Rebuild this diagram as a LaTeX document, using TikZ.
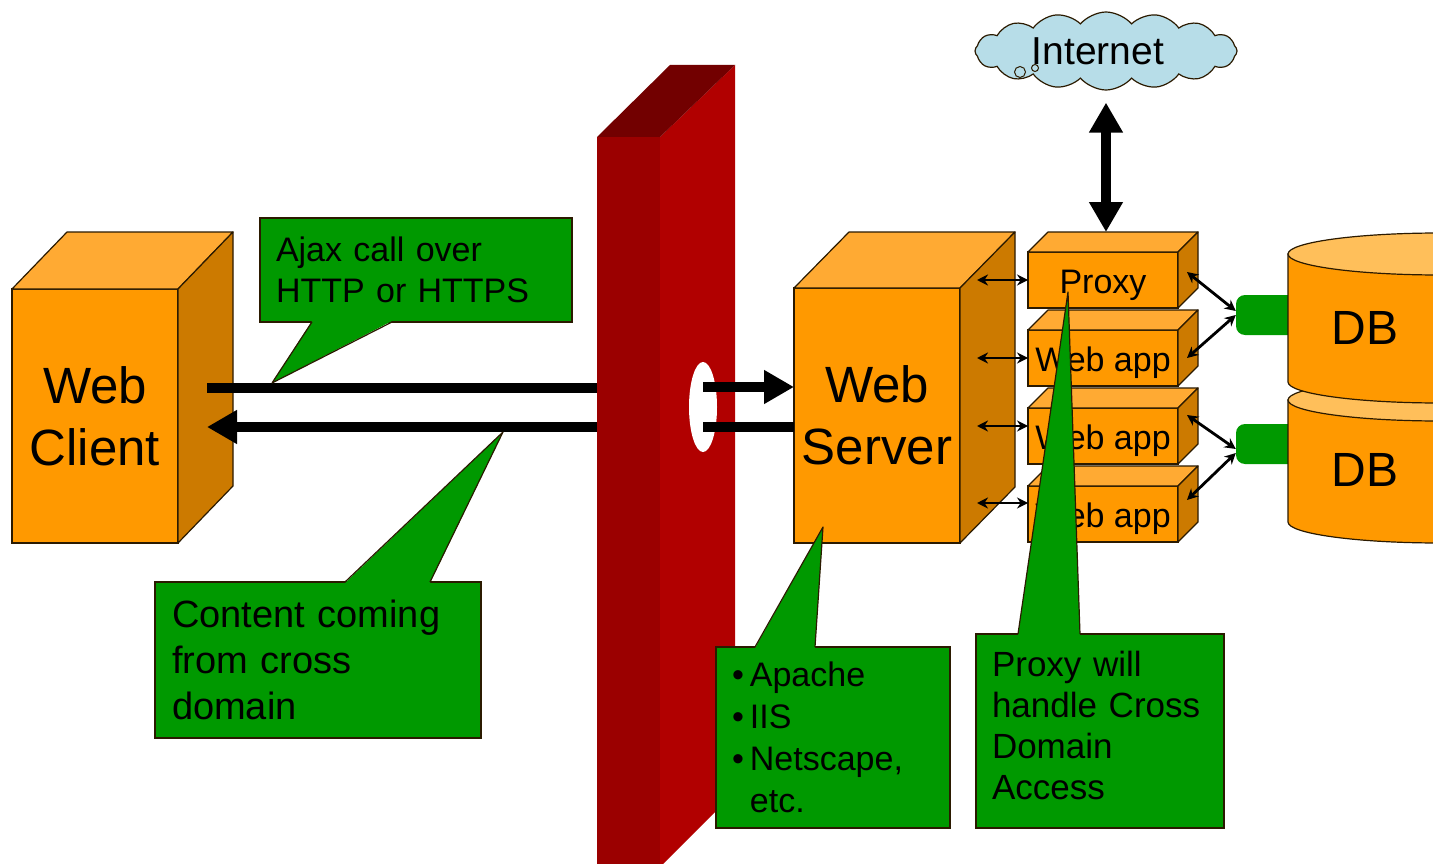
\documentclass[tikz,border=0pt]{standalone}
\usepackage{fontspec}
\setmainfont{Liberation Sans}
\usetikzlibrary{arrows.meta,shapes.symbols}

\definecolor{boxfront}{HTML}{FF9900}
\definecolor{boxtop}{HTML}{FFAA33}
\definecolor{boxside}{HTML}{CC7A00}
\definecolor{boxline}{HTML}{2B1A00}
\definecolor{dbtop}{HTML}{FFBF5A}
\definecolor{notegreen}{HTML}{009900}
\definecolor{wallfront}{HTML}{9B0000}
\definecolor{wallside}{HTML}{B10000}
\definecolor{walltop}{HTML}{720000}
\definecolor{cloudblue}{HTML}{B7DDE8}

% top and side faces of a box, #1 is the front face node, (#2,#3) the depth
\newcommand{\boxfaces}[3]{%
  \filldraw[fill=boxtop, draw=boxline, line width=1.2pt, line join=round]
    (#1.north west) -- ++(#2,#3) -- ([shift={(#2,#3)}]#1.north east) -- (#1.north east) -- cycle;
  \filldraw[fill=boxside, draw=boxline, line width=1.2pt, line join=round]
    (#1.north east) -- ++(#2,#3) -- ([shift={(#2,#3)}]#1.south east) -- (#1.south east) -- cycle;
}

\begin{document}
\begin{tikzpicture}[x=1pt,y=1pt,>=stealth,
  front/.style={draw=boxline, fill=boxfront, line width=1.2pt, outer sep=0pt, inner sep=0pt, align=center},
  note/.style={draw=boxline, fill=notegreen, line width=1.2pt, outer sep=0pt, inner xsep=16pt, inner ysep=0pt, align=left},
  noteline/.style={draw=boxline, line width=1.2pt, line join=round},
  bigtext/.style={font=\fontsize{51}{62}\selectfont},
  apptext/.style={font=\fontsize{34}{40}\selectfont, text height=30pt, text depth=4pt},
  flow/.style={line width=10pt, >={Triangle[length=30pt,width=32pt]}},
  link/.style={<->, line width=2.8pt, >={Stealth[length=11pt,width=11pt]}},
  pipe/.style={fill=notegreen, rounded corners=9pt, minimum width=64, minimum height=40, inner sep=0pt}]

  \useasboundingbox (0,0) rectangle (1433,-864);
  \clip (0,0) rectangle (1433,-864);
  \fill[white] (0,0) rectangle (1433,-864);

  % firewall
  \fill[wallfront] (597,-137) rectangle (660,-870);
  \fill[wallside] (660,-137) -- (735,-65) -- (735,-792) -- (660,-867) -- cycle;
  \fill[walltop] (597,-137) -- (670,-65) -- (735,-65) -- (660,-137) -- cycle;
  \fill[white] (703,-407) ellipse (14 and 45);
  \coordinate (wallin1) at (597,-388);
  \coordinate (wallin2) at (597,-427);
  \coordinate (hole1) at (703,-387);
  \coordinate (hole2) at (703,-427);

  % client and server
  \node[front, bigtext, minimum width=166, minimum height=254] (client) at (95,-416) {Web\\Client};
  \boxfaces{client}{55}{57}
  \node[front, bigtext, minimum width=166, minimum height=255] (server) at (877,-415.5) {Web\\Server};
  \boxfaces{server}{55}{56}

  % proxy and web apps
  \node[front, apptext, minimum width=150, minimum height=56] (proxy) at (1103,-280) {Proxy};
  \boxfaces{proxy}{20}{20}
  \node[front, apptext, minimum width=150, minimum height=56] (app1) at (1103,-358) {Web app};
  \boxfaces{app1}{20}{20}
  \node[front, apptext, minimum width=150, minimum height=56] (app2) at (1103,-436) {Web app};
  \boxfaces{app2}{20}{20}
  \node[front, apptext, minimum width=150, minimum height=56] (app3) at (1103,-514) {Web app};
  \boxfaces{app3}{20}{20}

  % databases
  \node[pipe] (pipe1) at (1268,-315) {};
  \node[pipe] (pipe2) at (1268,-444) {};
  \filldraw[fill=boxfront, draw=boxline, line width=1.2pt]
    (1288,-400) -- (1288,-522) arc (180:360:152 and 21) -- (1592,-400) -- cycle;
  \filldraw[fill=dbtop, draw=boxline, line width=1.2pt] (1440,-400) ellipse (152 and 21);
  \filldraw[fill=boxfront, draw=boxline, line width=1.2pt]
    (1288,-254) -- (1288,-382) arc (180:360:152 and 21) -- (1592,-254) -- cycle;
  \filldraw[fill=dbtop, draw=boxline, line width=1.2pt] (1440,-254) ellipse (152 and 21);
  \node[font=\fontsize{48}{56}\selectfont] (db1) at (1365,-328) {DB};
  \node[font=\fontsize{48}{56}\selectfont] (db2) at (1365,-470) {DB};

  % internet
  \node[cloud, cloud puffs=16, cloud puff arc=100, aspect=3.3, draw=boxline, fill=cloudblue,
    line width=1.2pt, minimum width=262, minimum height=78, inner sep=0pt,
    font=\fontsize{39}{47}\selectfont] (inet) at (1106,-51) {\hspace*{-16pt}Internet};
  \filldraw[fill=cloudblue, draw=boxline, line width=1pt] (1020,-72) circle (5.5) (1035,-68) circle (3.5);
  \coordinate (proxytop) at ([shift={(3,20)}]proxy.north);
  \draw[flow, <->, shorten <=12pt] (inet.south) -- (proxytop);

  % requests through the firewall
  \draw[flow] ([shift={(29,28)}]client.east) -- (wallin1);
  \draw[flow, ->] (wallin2) -- ([shift={(29,-11)}]client.east);
  \draw[flow, ->] (hole1) -- ([yshift=28.5]server.west);
  \draw[flow] (hole2) -- ([yshift=-11.5]server.west);

  % server to apps, apps to databases
  \draw[link] ([xshift=-51]proxy.west) -- (proxy.west);
  \draw[link] ([xshift=-51]app1.west) -- (app1.west);
  \draw[link] ([shift={(-51,10)}]app2.west) -- ([yshift=10]app2.west);
  \draw[link] ([shift={(-51,11)}]app3.west) -- ([yshift=11]app3.west);
  \draw[link] ([shift={(9,8)}]proxy.east) -- ([yshift=4]pipe1.west);
  \draw[link] ([xshift=9]app1.east) -- (pipe1.west);
  \draw[link] ([shift={(9,21)}]app2.east) -- ([yshift=-5]pipe2.west);
  \draw[link] ([shift={(9,14)}]app3.east) -- ([yshift=-9]pipe2.west);

  % callouts
  \node[note, minimum width=312, minimum height=104, text width=280,
    font=\fontsize{34}{41}\selectfont] (ajax) at (416,-270) {Ajax call over\\HTTP or HTTPS};
  \coordinate (ajaxtip) at (272,-383);
  \fill[notegreen] ([shift={(52,1)}]ajax.south west) -- (ajaxtip) -- ([shift={(132,1)}]ajax.south west) -- cycle;
  \draw[noteline] ([xshift=52]ajax.south west) -- (ajaxtip) -- ([xshift=132]ajax.south west);

  \node[note, minimum width=326, minimum height=156, text width=292,
    font=\fontsize{38}{46}\selectfont] (content) at (318,-660) {Content coming\\from cross\\domain};
  \coordinate (contenttip) at (503,-432);
  \fill[notegreen] ([shift={(190,-1)}]content.north west) -- (contenttip) -- ([shift={(275,-1)}]content.north west) -- cycle;
  \draw[noteline] ([xshift=190]content.north west) -- (contenttip) -- ([xshift=275]content.north west);

  \node[note, minimum width=234, minimum height=181, text width=202,
    font=\fontsize{34}{42}\selectfont] (servers) at (833,-737.5)
    {\textbullet\hspace{6pt}Apache\\\textbullet\hspace{6pt}IIS\\\textbullet\hspace{6pt}Netscape,\\\phantom{\textbullet}\hspace{6pt}etc.};
  \coordinate (servertip) at (823,-527);
  \fill[notegreen] ([shift={(39,-1)}]servers.north west) -- (servertip) -- ([shift={(99,-1)}]servers.north west) -- cycle;
  \draw[noteline] ([xshift=39]servers.north west) -- (servertip) -- ([xshift=99]servers.north west);

  \node[note, minimum width=248, minimum height=194, text width=216,
    font=\fontsize{35}{41}\selectfont] (proxynote) at (1100,-731)
    {Proxy will\\handle Cross\\Domain\\Access\\[-29pt]\mbox{}};
  \coordinate (proxytip) at (1068,-292);
  \fill[notegreen] ([shift={(42,-1)}]proxynote.north west) -- (proxytip) -- ([shift={(104,-1)}]proxynote.north west) -- cycle;
  \draw[noteline] ([xshift=42]proxynote.north west) -- (proxytip) -- ([xshift=104]proxynote.north west);

\end{tikzpicture}
\end{document}
